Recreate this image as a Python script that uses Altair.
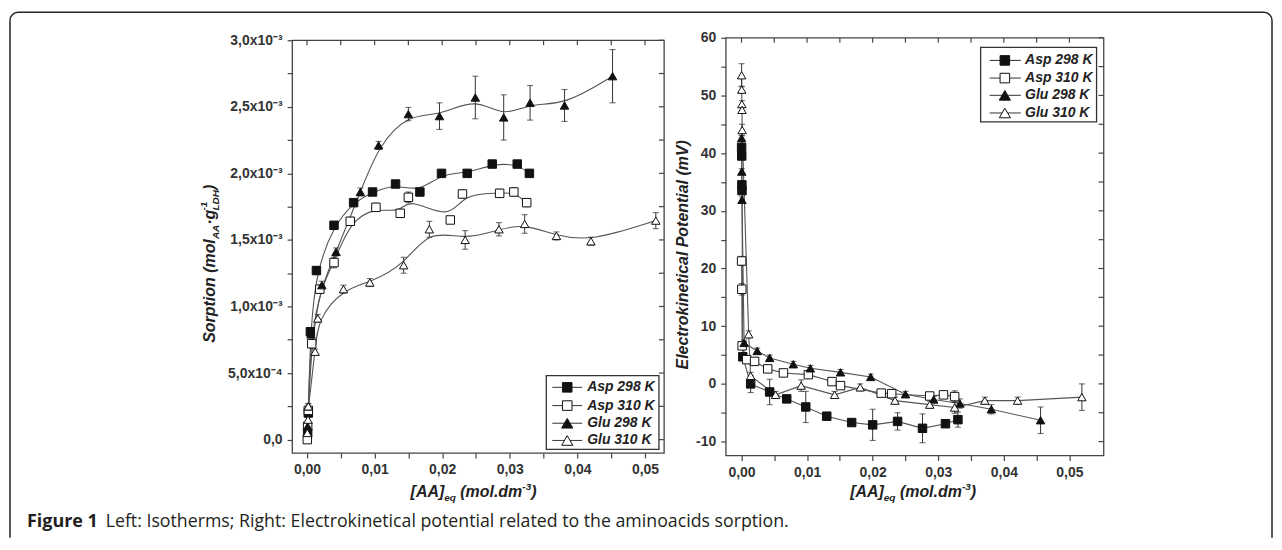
import math
import altair as alt
import pandas as pd

FONT = "Liberation Sans"
SERIES = ["Asp 298 K", "Asp 310 K", "Glu 298 K", "Glu 310 K"]
SHAPES = ["square", "square", "triangle-up", "triangle-up"]
FILLS = ["#111111", "#ffffff", "#111111", "#ffffff"]
SIZES = [72, 72, 105, 105]

# ---------------- Left panel: sorption (y in units of 1e-3 mol/g) ----------------
asp298_x = [0.0001, 0.0002, 0.0005, 0.0014, 0.0040, 0.0069, 0.0097, 0.0131, 0.0167, 0.0199, 0.0237, 0.0274, 0.0311, 0.0329]
asp298_y = [0.05, 0.20, 0.81, 1.27, 1.61, 1.78, 1.86, 1.92, 1.86, 2.00, 2.00, 2.07, 2.07, 2.00]
asp298_e = [0.02, 0.02, 0.03, 0.03, 0.02, 0.02, 0.02, 0.02, 0.02, 0.02, 0.02, 0.02, 0.02, 0.02]

asp310_x = [0.00005, 0.0001, 0.0002, 0.0007, 0.0019, 0.0040, 0.0064, 0.0102, 0.0138, 0.0150, 0.0212, 0.0230, 0.0285, 0.0306, 0.0325]
asp310_y = [0.00, 0.10, 0.22, 0.72, 1.13, 1.33, 1.64, 1.745, 1.70, 1.82, 1.65, 1.845, 1.85, 1.86, 1.78]
asp310_e = [0.02, 0.02, 0.02, 0.03, 0.03, 0.04, 0.03, 0.03, 0.03, 0.04, 0.02, 0.03, 0.03, 0.03, 0.03]

glu298_x = [0.0001, 0.0002, 0.0006, 0.0022, 0.0043, 0.0079, 0.0106, 0.0150, 0.0196, 0.0249, 0.0291, 0.0330, 0.0381, 0.0452]
glu298_y = [0.10, 0.25, 0.79, 1.16, 1.41, 1.86, 2.21, 2.445, 2.43, 2.57, 2.42, 2.53, 2.51, 2.73]
glu298_e = [0.02, 0.02, 0.02, 0.03, 0.03, 0.03, 0.03, 0.05, 0.10, 0.16, 0.17, 0.13, 0.12, 0.20]

glu310_x = [0.00005, 0.00015, 0.0002, 0.0012, 0.0016, 0.0054, 0.0093, 0.0143, 0.0181, 0.0234, 0.0284, 0.0322, 0.0369, 0.0420, 0.0516]
glu310_y = [0.05, 0.15, 0.25, 0.66, 0.91, 1.13, 1.18, 1.31, 1.58, 1.50, 1.58, 1.62, 1.53, 1.49, 1.645]
glu310_e = [0.02, 0.02, 0.02, 0.02, 0.03, 0.03, 0.03, 0.06, 0.06, 0.07, 0.05, 0.07, 0.03, 0.03, 0.06]

# ---------------- Right panel: electrokinetical potential (mV) ----------------
asp298r_x = [0.00002, 0.00004, 0.00006, 0.00008, 0.0002, 0.0014, 0.0043, 0.0069, 0.0098, 0.0130, 0.0168, 0.0200, 0.0238, 0.0276, 0.0311, 0.0330]
asp298r_y = [41.0, 39.5, 34.5, 33.5, 4.7, 0.0, -1.4, -2.6, -4.0, -5.6, -6.7, -7.1, -6.5, -7.7, -6.9, -6.2]
asp298r_e = [0.5, 0.5, 0.5, 0.5, 0.5, 1.5, 2.2, 0.5, 2.7, 0.6, 0.4, 2.7, 1.5, 2.5, 0.6, 1.3]

asp310r_x = [0.00002, 0.00005, 0.0001, 0.0008, 0.0020, 0.0040, 0.0064, 0.0102, 0.0138, 0.0151, 0.0213, 0.0229, 0.0287, 0.0308, 0.0325]
asp310r_y = [21.3, 16.4, 6.6, 4.2, 3.9, 2.6, 1.9, 1.6, 0.4, -0.3, -1.6, -1.7, -2.1, -1.9, -2.2]
asp310r_e = [0.8, 1.0, 0.5, 0.5, 0.6, 0.6, 0.4, 0.6, 0.5, 0.5, 0.4, 0.4, 0.6, 0.6, 1.0]

glu298r_x = [0.00002, 0.00005, 0.00008, 0.0004, 0.0024, 0.0043, 0.0079, 0.0105, 0.0151, 0.0197, 0.0250, 0.0293, 0.0333, 0.0381, 0.0456]
glu298r_y = [42.6, 36.8, 31.9, 7.1, 5.7, 4.5, 3.4, 2.7, 2.0, 1.2, -1.8, -2.7, -3.4, -4.4, -6.3]
glu298r_e = [0.5, 0.5, 0.5, 0.5, 0.5, 0.5, 0.5, 0.5, 0.5, 0.5, 0.5, 0.5, 0.8, 0.8, 2.3]

glu310r_x = [0.00002, 0.00004, 0.00006, 0.00008, 0.0001, 0.0011, 0.0014, 0.0052, 0.0091, 0.0142, 0.0181, 0.0234, 0.0287, 0.0325, 0.0371, 0.0421, 0.0519]
glu310r_y = [53.5, 51.0, 48.5, 47.5, 44.0, 8.6, 1.4, -1.9, -0.3, -1.9, -0.6, -2.9, -3.6, -4.1, -2.9, -2.9, -2.3]
glu310r_e = [2.0, 0.6, 0.6, 0.6, 1.0, 0.6, 0.6, 0.6, 1.0, 0.6, 0.6, 0.6, 0.6, 1.0, 0.6, 0.6, 2.3]

# ---------------- Tick values and labels ----------------
X_TICKS = [0.0, 0.005, 0.01, 0.015, 0.02, 0.025, 0.03, 0.035, 0.04, 0.045, 0.05]
X_LABELS = ["0,00", "", "0,01", "", "0,02", "", "0,03", "", "0,04", "", "0,05"]
L_Y_TICKS = [0.0, 0.25, 0.5, 0.75, 1.0, 1.25, 1.5, 1.75, 2.0, 2.25, 2.5, 2.75, 3.0]
L_Y_LABELS = ["0,0", "", "5,0x10⁻⁴", "", "1,0x10⁻³", "", "1,5x10⁻³", "", "2,0x10⁻³", "", "2,5x10⁻³", "", "3,0x10⁻³"]
R_Y_TICKS = [-10, -5, 0, 5, 10, 15, 20, 25, 30, 35, 40, 45, 50, 55, 60]
R_Y_LABELS = ["-10", "", "0", "", "10", "", "20", "", "30", "", "40", "", "50", "", "60"]

CAPTION_BOLD = "Figure 1"
CAPTION_REST = "Left: Isotherms; Right: Electrokinetical potential related to the aminoacids sorption."

# Arial/Liberation Sans Bold advance widths (per 1000 em) for title layout
AW = {" ": 278, "(": 333, ")": 333, "[": 333, "]": 333, ".": 278, "-": 333, "·": 278,
      "1": 556, "3": 556, "A": 722, "D": 722, "H": 722, "L": 611, "S": 667,
      "d": 611, "e": 556, "g": 611, "i": 278, "l": 278, "m": 889, "n": 611,
      "o": 611, "p": 611, "q": 611, "r": 389, "t": 333}


def tw(s, fs):
    return sum(AW.get(c, 556) for c in s) * fs / 1000.0


def frame(names, xs_list, ys_list, es_list):
    rows = []
    for name, xs, ys, es in zip(names, xs_list, ys_list, es_list):
        for x, y, e in zip(xs, ys, es):
            rows.append({"series": name, "x": x, "y": y, "err": e, "lo": y - e, "hi": y + e})
    return pd.DataFrame(rows)


left_df = frame(SERIES, [asp298_x, asp310_x, glu298_x, glu310_x],
                [asp298_y, asp310_y, glu298_y, glu310_y],
                [asp298_e, asp310_e, glu298_e, glu310_e])
right_df = frame(SERIES, [asp298r_x, asp310r_x, glu298r_x, glu310r_x],
                 [asp298r_y, asp310r_y, glu298r_y, glu310r_y],
                 [asp298r_e, asp310r_e, glu298r_e, glu310r_e])


def lab_expr(ticks, labels):
    e = "''"
    for v, lab in reversed(list(zip(ticks, labels))):
        if lab:
            e = f"abs(datum.value - ({v!r})) < 1e-9 ? '{lab}' : ({e})"
    return e


def make_axis(ticks, labels, orient):
    return alt.Axis(values=ticks, labelExpr=lab_expr(ticks, labels), orient=orient, title=None,
                    domain=False, grid=False, tickSize=5, tickWidth=1.2, tickColor="#444444",
                    labelFont=FONT, labelFontWeight="bold", labelFontSize=14, labelColor="#333333",
                    labelPadding=5, labelOverlap=False, labelFlush=False)


ONE = pd.DataFrame({"t": [""]})


def vrule(x1, y1, x2, y2, color="#222222", width=1.5):
    return alt.Chart(ONE).mark_rule(color=color, strokeWidth=width).encode(
        x=alt.value(x1), y=alt.value(y1), x2=alt.value(x2), y2=alt.value(y2))


def vtext(s, x, y, size=16, weight="bold", style="italic", angle=0, align="left",
          baseline="alphabetic", font=FONT, color="#222222"):
    kw = dict(font=font, fontSize=size, fontWeight=weight, fontStyle=style, align=align,
              baseline=baseline, color=color)
    if angle:
        kw["angle"] = angle
    return alt.Chart(pd.DataFrame({"t": [s]})).mark_text(**kw).encode(
        x=alt.value(x), y=alt.value(y), text="t:N")


def legend(x0, x1, y0, y1, rows, lx0, lx1, sx, tx):
    layers = [alt.Chart(ONE).mark_rect(fill="white", stroke="#333333", strokeWidth=1.3).encode(
        x=alt.value(x0), x2=alt.value(x1), y=alt.value(y0), y2=alt.value(y1))]
    for name, shape, fill, size, ry in zip(SERIES, SHAPES, FILLS, SIZES, rows):
        layers.append(vrule(lx0, ry, lx1, ry, color="#444444", width=1.1))
        layers.append(alt.Chart(ONE).mark_point(shape=shape, filled=True, fill=fill, stroke="#111111",
                                                strokeWidth=1, size=size + 20, opacity=1).encode(
            x=alt.value(sx), y=alt.value(ry)))
        layers.append(vtext(name, tx, ry, size=14, baseline="middle"))
    return layers


def build_panel(df, W, H, xdom, ydom, yt, yl, interp, deco):
    xs = alt.Scale(domain=xdom, nice=False, zero=False)
    ys = alt.Scale(domain=ydom, nice=False, zero=False)
    xa = make_axis(X_TICKS, X_LABELS, "bottom")
    ya = make_axis(yt, yl, "left")
    X = alt.X("x:Q", scale=xs, axis=xa)
    Y = alt.Y("y:Q", scale=ys, axis=ya)
    lines = alt.Chart(df).mark_line(interpolate=interp, color="#555555", strokeWidth=1.1).encode(
        X, Y, detail="series:N")
    err = df[df["err"] > 0]
    bars = alt.Chart(err).mark_rule(color="#333333", strokeWidth=1).encode(
        X, alt.Y("lo:Q", scale=ys, axis=ya), alt.Y2("hi:Q"))
    cap_lo = alt.Chart(err).mark_tick(orient="horizontal", size=6, thickness=1.1, color="#333333").encode(
        X, alt.Y("lo:Q", scale=ys, axis=ya))
    cap_hi = alt.Chart(err).mark_tick(orient="horizontal", size=6, thickness=1.1, color="#333333").encode(
        X, alt.Y("hi:Q", scale=ys, axis=ya))
    pts = alt.Chart(df).mark_point(filled=True, stroke="#111111", strokeWidth=1, opacity=1).encode(
        X, Y,
        shape=alt.Shape("series:N", scale=alt.Scale(domain=SERIES, range=SHAPES), legend=None),
        fill=alt.Fill("series:N", scale=alt.Scale(domain=SERIES, range=FILLS), legend=None),
        size=alt.Size("series:O", scale=alt.Scale(domain=SERIES, range=SIZES), legend=None))
    top = alt.Chart(pd.DataFrame({"x": X_TICKS})).mark_rule(color="#444444", strokeWidth=1.2).encode(
        X, y=alt.value(0), y2=alt.value(5))
    right = alt.Chart(pd.DataFrame({"y": yt})).mark_rule(color="#444444", strokeWidth=1.2).encode(
        Y, x=alt.value(W - 5), x2=alt.value(W))
    return alt.layer(lines, bars, cap_lo, cap_hi, pts, top, right, *deco).properties(width=W, height=H)


def adv_of(s, fs, adv):
    return tw(s, fs) if adv is True else adv


def pieces_vertical(pieces, bx, y0):
    out = []
    y = y0
    for s, fs, dx, adv in pieces:
        if s.strip():
            out.append(vtext(s.strip(), bx + dx, y, size=fs, angle=270))
        y -= adv_of(s, fs, adv)
    return out


def pieces_horizontal(pieces, cx, by):
    total = sum(adv_of(s, fs, adv) for s, fs, dy, adv in pieces)
    out = []
    x = cx - total / 2
    for s, fs, dy, adv in pieces:
        if s.strip():
            out.append(vtext(s.strip(), x, by + dy, size=fs))
        x += adv_of(s, fs, adv)
    return out


XTITLE = [("[AA]", 16, 0, True), ("eq", 10, 4, True), (" ", 16, 0, True), ("(mol.dm", 16, 0, True),
          ("-3", 10, -7, True), (")", 16, 0, True)]

# ---------- Left panel decorations (local coords, plot origin ~ page (292, 38.5)) ----------
LW, LH = 373, 414
RW, RH = 379, 419

left_deco = []
# figure border (top/left/right) with rounded top corners
R = 8
BL, BT, BR, BB = -283, -28, 983, 499
left_deco += [vrule(BL, BT + R, BL, BB), vrule(BR, BT + R, BR, BB), vrule(BL + R, BT, BR - R, BT)]
left_deco.append(alt.Chart(ONE).mark_arc(color="#222222", radius=R + 0.75, radius2=R - 0.75,
                                         theta=1.5 * math.pi, theta2=2 * math.pi).encode(
    x=alt.value(BL + R), y=alt.value(BT + R)))
left_deco.append(alt.Chart(ONE).mark_arc(color="#222222", radius=R + 0.75, radius2=R - 0.75,
                                         theta=0.0, theta2=0.5 * math.pi).encode(
    x=alt.value(BR - R), y=alt.value(BT + R)))
# caption
left_deco.append(vtext(CAPTION_BOLD, -266, 488, size=18, weight="bold", style="normal",
                       font="Open Sans", color="#231f20"))
left_deco.append(vtext(CAPTION_REST, -187, 488, size=17.8, weight="normal", style="normal",
                       font="Open Sans", color="#231f20"))
# y title
left_deco += pieces_vertical([("Sorption (mol", 16, 0, True), ("AA", 10, 4, True), ("·g", 16, 0, True),
                              ("-1", 10, -8, False), ("LDH", 10, 4, True), (")", 16, 0, True)], -77, 303.5)
# x title
left_deco += pieces_horizontal(XTITLE, 182, 458.5)
left_deco += legend(255, 368, 336.5, 410.5, [348.2, 366.5, 384.2, 401.5], 261, 291, 276, 296)

right_deco = []
right_deco.append(vtext("Electrokinetical Potential (mV)", -38, 217.75, size=16, angle=270, align="center"))
right_deco += pieces_horizontal(XTITLE, 188, 460.75)
right_deco += legend(255.7, 372, 9.75, 84.45, [22.75, 40.45, 57.75, 75.45], 264.7, 296, 280, 300.3)

left = build_panel(left_df, LW, LH, [-0.0022, 0.0528], [-0.1, 3.0], L_Y_TICKS, L_Y_LABELS, "basis", left_deco)
right = build_panel(right_df, RW, RH, [-0.0024, 0.0552], [-12.4, 60], R_Y_TICKS, R_Y_LABELS, "linear", right_deco)

chart = alt.hconcat(left, right, spacing=62, bounds="flush", center=True).properties(
    padding={"left": 0, "top": 2, "right": 0, "bottom": 0},
    background="white",
).configure_view(stroke="#444444", strokeWidth=1.3)

chart.save("out.html", embed_options={"renderer": "svg", "actions": False})
